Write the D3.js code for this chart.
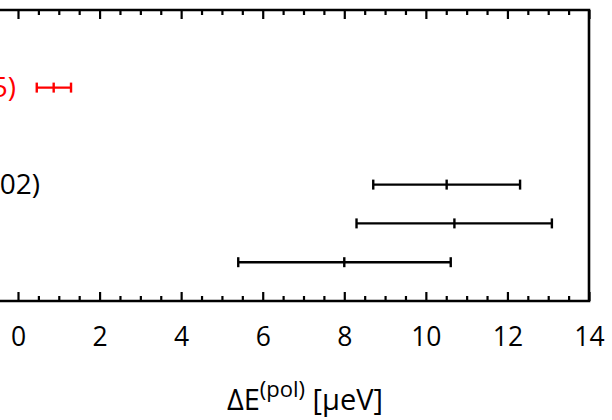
<!DOCTYPE html>
<html><head><meta charset="utf-8">
<script src="https://cdn.jsdelivr.net/npm/d3@7"></script>
<style>body{margin:0;background:#fff}svg{display:block}</style>
</head><body>
<svg id="c" width="612" height="420"></svg>
<script>
// data
const rows = [5.5, 3, 2, 1];
const lows = [0.46, 8.71, 8.30, 5.40];
const centers = [0.875, 10.51, 10.70, 8.00];
const highs = [1.30, 12.31, 13.09, 10.61];
const colors = ["#ff0000", "#000000", "#000000", "#000000"];
const rowLabels = [{row: 5.5, text: "5)", color: "#ff0000"}, {row: 3, text: "02)", color: "#000000"}];
const xTicks = [0, 2, 4, 6, 8, 10, 12, 14];
const xMinorTicks = d3.range(-0.5, 14.01, 0.5);

(function () {
const svg = d3.select("#c");
const font = "'Open Sans', sans-serif";
const x = d3.scaleLinear().domain([0, 14]).range([18, 589]);
const y = d3.scaleLinear().domain([0, 7.5]).range([301, 10]);

// frame
svg.append("path").attr("d", `M${x(-1)},${y(7.5)}H${x(14)}V${y(0)}H${x(-1)}`)
  .attr("fill", "none").attr("stroke", "#000").attr("stroke-width", 2.6);

const minorVals = xMinorTicks.filter(v => v % 2 !== 0);

// bottom axis (ticks inward)
const ba = svg.append("g").attr("transform", `translate(0,${y(0)})`)
  .call(d3.axisBottom(x).tickValues(xTicks).tickSizeInner(-9).tickSizeOuter(0).tickPadding(26));
ba.select(".domain").remove();
ba.selectAll(".tick line").attr("stroke-width", 2.2);
ba.selectAll(".tick text").attr("font-family", font).attr("font-size", 26.5).attr("fill", "#000");
const bm = svg.append("g").attr("transform", `translate(0,${y(0)})`)
  .call(d3.axisBottom(x).tickValues(minorVals).tickSizeInner(-5).tickSizeOuter(0).tickFormat(""));
bm.select(".domain").remove();
bm.selectAll(".tick line").attr("stroke-width", 2.2);

// top axis
const ta = svg.append("g").attr("transform", `translate(0,${y(7.5)})`)
  .call(d3.axisTop(x).tickValues(xTicks).tickSizeInner(-9).tickSizeOuter(0).tickFormat(""));
ta.select(".domain").remove();
ta.selectAll(".tick line").attr("stroke-width", 2.2);
const tm = svg.append("g").attr("transform", `translate(0,${y(7.5)})`)
  .call(d3.axisTop(x).tickValues(minorVals).tickSizeInner(-5).tickSizeOuter(0).tickFormat(""));
tm.select(".domain").remove();
tm.selectAll(".tick line").attr("stroke-width", 2.2);

// error bars
const cap = 5;
rows.forEach((r, i) => {
  const eg = svg.append("g").attr("stroke", colors[i]).attr("stroke-width", 2.4);
  const yy = y(r);
  eg.append("line").attr("x1", x(lows[i])).attr("x2", x(highs[i])).attr("y1", yy).attr("y2", yy);
  [lows[i], centers[i], highs[i]].forEach(v => {
    eg.append("line").attr("x1", x(v)).attr("x2", x(v)).attr("y1", yy - cap).attr("y2", yy + cap);
  });
});

// row labels (visible tails)
svg.selectAll("text.rl").data(rowLabels).join("text").attr("class", "rl")
  .attr("x", d => d.text === "5)" ? 16 : 40).attr("y", d => y(d.row))
  .attr("dy", "0.35em")
  .attr("text-anchor", "end").attr("font-family", font).attr("font-size", 28)
  .attr("fill", d => d.color).text(d => d.text);

// axis title
const t = svg.append("text").attr("x", 305).attr("y", 410).attr("text-anchor", "middle")
  .attr("font-family", font).attr("font-size", 29).attr("fill", "#000");
t.append("tspan").text("ΔE");
t.append("tspan").attr("dy", -13).attr("font-size", 22).text("(pol)");
t.append("tspan").attr("dy", 13).text(" [μeV]");
})();
</script>
</body></html>
